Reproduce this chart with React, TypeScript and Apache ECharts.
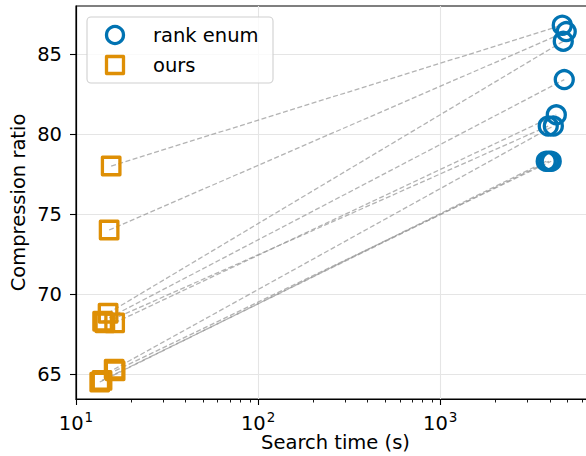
import React, { useEffect, useRef } from "react";
import * as echarts from "echarts";

// ours (search time s, compression ratio) paired with rank enum
const oursX = [15.6, 15.2, 15.0, 14.0, 16.3, 14.4, 16.2, 13.5, 13.9, 16.4];
const oursY = [78.0, 74.0, 68.8, 68.3, 68.2, 68.2, 65.3, 64.5, 64.6, 65.2];
const rankX = [4680, 4920, 4740, 4800, 4340, 3920, 4180, 3820, 3950, 4070];
const rankY = [86.8, 86.4, 85.8, 83.4, 81.2, 80.5, 80.5, 78.3, 78.3, 78.3];

const xMajorTicks = [10, 100, 1000];
const xMinorTicks = [20, 30, 40, 50, 60, 70, 80, 90, 200, 300, 400, 500, 600, 700, 800, 900, 2000, 3000, 4000, 5000, 6000, 7000];
const yTicks = [65, 70, 75, 80, 85];
const legendNames = ["rank enum", "ours"];

const BLUE = "#0173b2";
const ORANGE = "#de8f05";
const FONT = "DejaVu Sans";
const FS = 19.5;

export default function App() {
  const ref = useRef<HTMLDivElement>(null);
  useEffect(() => {
    if (!ref.current) return;
    const chart = echarts.init(ref.current, null, { renderer: "svg" });
    const option: any = {
      animation: false,
      backgroundColor: "#ffffff",
      textStyle: { fontFamily: FONT },
      grid: {
        left: 76, top: 6, bottom: 57, right: -9, containLabel: false, outerBoundsMode: "none",
        show: true, borderColor: "#000", borderWidth: 1.2, backgroundColor: "rgba(0,0,0,0)",
      },
      xAxis: [
        {
          type: "log",
          min: 10,
          max: 7079,
          position: "bottom",
          name: "Search time (s)",
          nameLocation: "middle",
          nameGap: 33,
          nameMoveOverlap: false,
          nameTextStyle: { fontSize: FS, color: "#000", fontFamily: FONT, lineHeight: 20 },
          axisLine: { show: true, lineStyle: { color: "#000", width: 1.2 } },
          axisTick: { show: true, length: 6, lineStyle: { color: "#000", width: 1.1 }, customValues: xMajorTicks },
          axisLabel: {
            customValues: xMajorTicks,
            margin: 11,
            color: "#000",
            fontFamily: FONT,
            formatter: (v: number) => "{base|10}{sup|" + Math.round(Math.log10(v)) + "}",
            rich: {
              base: { fontSize: FS, fontFamily: FONT, color: "#000", verticalAlign: "bottom" },
              sup: { fontSize: 13.5, fontFamily: FONT, color: "#000", verticalAlign: "bottom", padding: [0, 0, 9, 1] },
            },
          },
          splitLine: { show: true, lineStyle: { color: "#e5e5e5", width: 1.1 } },
        },
        {
          type: "log",
          min: 10,
          max: 7079,
          position: "bottom",
          axisLine: { show: false },
          axisLabel: { show: false },
          splitLine: { show: false },
          axisTick: { show: true, length: 3.5, lineStyle: { color: "#000", width: 0.9 }, customValues: xMinorTicks },
        },
      ],
      yAxis: {
        type: "value",
        min: 63.44,
        max: 88.0,
        name: "Compression ratio",
        nameLocation: "middle",
        nameGap: 48,
        nameMoveOverlap: false,
        nameTextStyle: { fontSize: FS, color: "#000", fontFamily: FONT },
        axisLine: { show: true, lineStyle: { color: "#000", width: 1.2 } },
        axisTick: { show: true, length: 6, lineStyle: { color: "#000", width: 1.1 }, customValues: yTicks },
        axisLabel: { customValues: yTicks, margin: 14, fontSize: FS, color: "#000", fontFamily: FONT },
        splitLine: { show: true, lineStyle: { color: "#e5e5e5", width: 1.1 } },
      },
      series: [
        {
          type: "lines",
          coordinateSystem: "cartesian2d",
          xAxisIndex: 0,
          yAxisIndex: 0,
          z: 1,
          silent: true,
          lineStyle: { color: "#9a9a9a", opacity: 0.75, width: 1.3, type: [5, 2.5] },
          data: oursX.map((x, i) => ({ coords: [[x, oursY[i]], [rankX[i], rankY[i]]] })),
        },
        {
          name: legendNames[0],
          type: "scatter",
          xAxisIndex: 0,
          z: 3,
          symbol: "circle",
          symbolSize: 18,
          itemStyle: { color: "rgba(0,0,0,0)", borderColor: BLUE, borderWidth: 3.3, opacity: 1 },
          data: rankX.map((x, i) => [x, rankY[i]]),
        },
        {
          name: legendNames[1],
          type: "scatter",
          xAxisIndex: 0,
          z: 3,
          symbol: "rect",
          symbolSize: 17.5,
          itemStyle: { color: "rgba(0,0,0,0)", borderColor: ORANGE, borderWidth: 3.3, borderJoin: "round", opacity: 1 },
          data: oursX.map((x, i) => [x, oursY[i]]),
        },
      ],
      graphic: [
        {
          type: "rect",
          z: 10,
          shape: { x: 87, y: 17, width: 186, height: 66, r: 4 },
          style: { fill: "rgba(255,255,255,0.8)", stroke: "#d0d0d0", lineWidth: 1.1 },
        },
        {
          type: "circle",
          z: 11,
          shape: { cx: 115, cy: 35, r: 8.5 },
          style: { fill: "none", stroke: BLUE, lineWidth: 3.3 },
        },
        {
          type: "rect",
          z: 11,
          shape: { x: 106.5, y: 56.5, width: 17, height: 17 },
          style: { fill: "none", stroke: ORANGE, lineWidth: 3.3, lineJoin: "round" },
        },
        {
          type: "text",
          z: 11,
          x: 153,
          y: 35,
          style: { text: legendNames[0], fontSize: FS, fontFamily: FONT, fill: "#000", verticalAlign: "middle" },
        },
        {
          type: "text",
          z: 11,
          x: 153,
          y: 65,
          style: { text: legendNames[1], fontSize: FS, fontFamily: FONT, fill: "#000", verticalAlign: "middle" },
        },
      ],
    };
    chart.setOption(option);
    return () => chart.dispose();
  }, []);
  return (
    <div style={{ position: "absolute", left: 0, top: 0, width: 586, height: 456, overflow: "hidden" }}>
      <div ref={ref} style={{ width: 586, height: 456 }} />
    </div>
  );
}
